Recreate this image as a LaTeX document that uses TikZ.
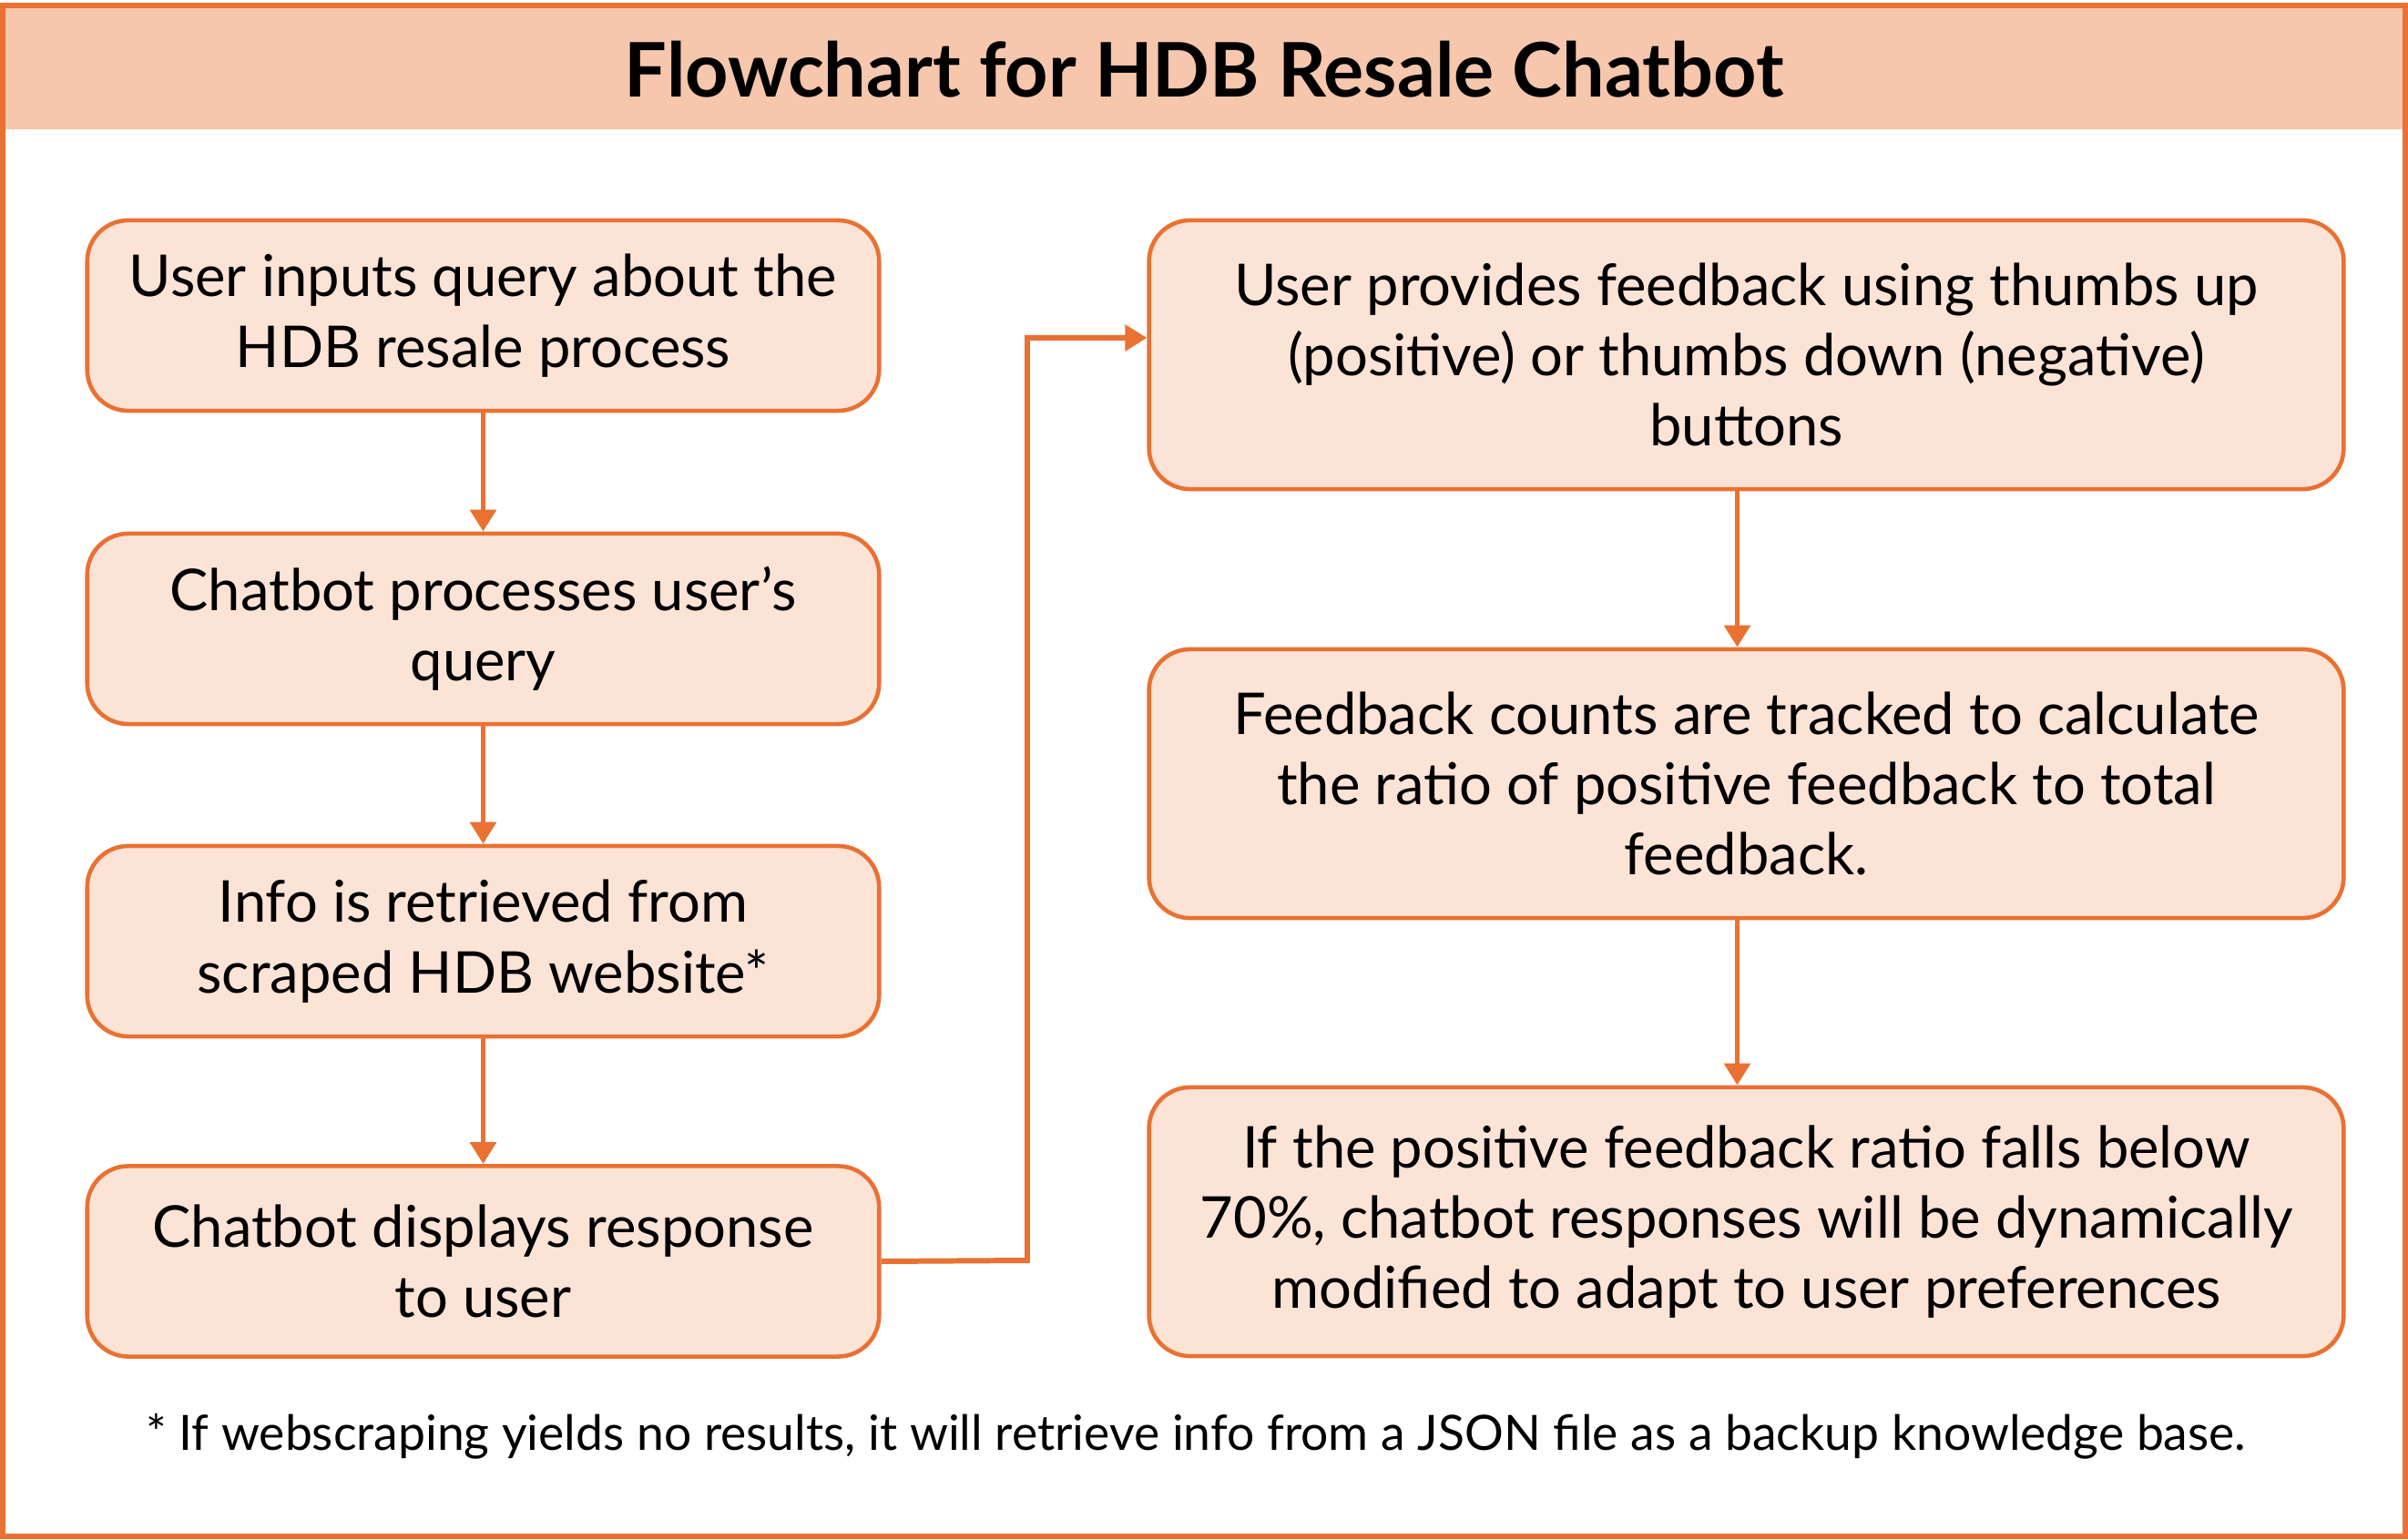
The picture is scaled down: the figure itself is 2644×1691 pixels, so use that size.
\documentclass[tikz,border=0pt]{standalone}
\usepackage{fontspec}
\setmainfont{Lato}
\usetikzlibrary{arrows.meta}
\definecolor{orng}{HTML}{E97132}
\definecolor{titlefill}{HTML}{F6C6AD}
\definecolor{boxfill}{HTML}{FBE3D6}
\tikzset{
  flowbox/.style={draw=orng, fill=boxfill, line width=1.3pt, rounded corners=0.45cm,
    align=center, inner sep=0pt, font=\fontsize{18}{22}\selectfont},
  leftbox/.style={flowbox, minimum width=8.69cm, minimum height=2.09cm},
  rightbox/.style={flowbox, minimum width=13.11cm, minimum height=2.95cm},
  conn/.style={draw=orng, line width=1.7pt},
  arr/.style={conn, -{Triangle[width=0.28cm, length=0.24cm]}},
}
\begin{document}
\begin{tikzpicture}[x=0.01cm, y=-0.01cm]
\useasboundingbox (0,0) rectangle (2644,1691);
% title band and outer frame
\fill[titlefill] (5,9) rectangle (2638,142);
\draw[orng, line width=1.7pt] (3,6) rectangle (2641,1687);
\node[font=\bfseries\fontsize{23.5}{28}\selectfont] (title) at (1322,76) {Flowchart for HDB Resale Chatbot};
% left column
\node[leftbox] (b1) at (530.5,346.5) {User inputs query about the\\HDB resale process};
\node[leftbox] (b2) at (530.5,690.5) {Chatbot processes user’s\\query};
\node[leftbox] (b3) at (530.5,1033.5) {Info is retrieved from\\scraped HDB website*};
\node[leftbox] (b4) at (530.5,1385) {Chatbot displays response\\to user};
% right column
\node[rightbox] (r1) at (1917.5,389.5) {User provides feedback using thumbs up\\(positive) or thumbs down (negative)\\buttons};
\node[rightbox] (r2) at (1917.5,860.5) {Feedback counts are tracked to calculate\\the ratio of positive feedback to total\\feedback.};
\node[rightbox] (r3) at (1917.5,1341.5) {If the positive feedback ratio falls below\\70\%, chatbot responses will be dynamically\\modified to adapt to user preferences};
% footnote
\node[font=\fontsize{15.2}{18}\selectfont] (note) at (1313,1577) {* If webscraping yields no results, it will retrieve info from a JSON file as a backup knowledge base.};
% connectors
\draw[arr] (b1.south) -- (b2.north);
\draw[arr] (b2.south) -- (b3.north);
\draw[arr] (b3.south) -- (b4.north);
\coordinate (elb) at (1128,1384);
\draw[arr] (b4.east) -- (elb) |- ([yshift=0.185cm]r1.west);
\draw[arr] ([xshift=-0.1cm]r1.south) -- ([xshift=-0.1cm]r2.north);
\draw[arr] ([xshift=-0.1cm]r2.south) -- ([xshift=-0.1cm]r3.north);
\end{tikzpicture}
\end{document}
